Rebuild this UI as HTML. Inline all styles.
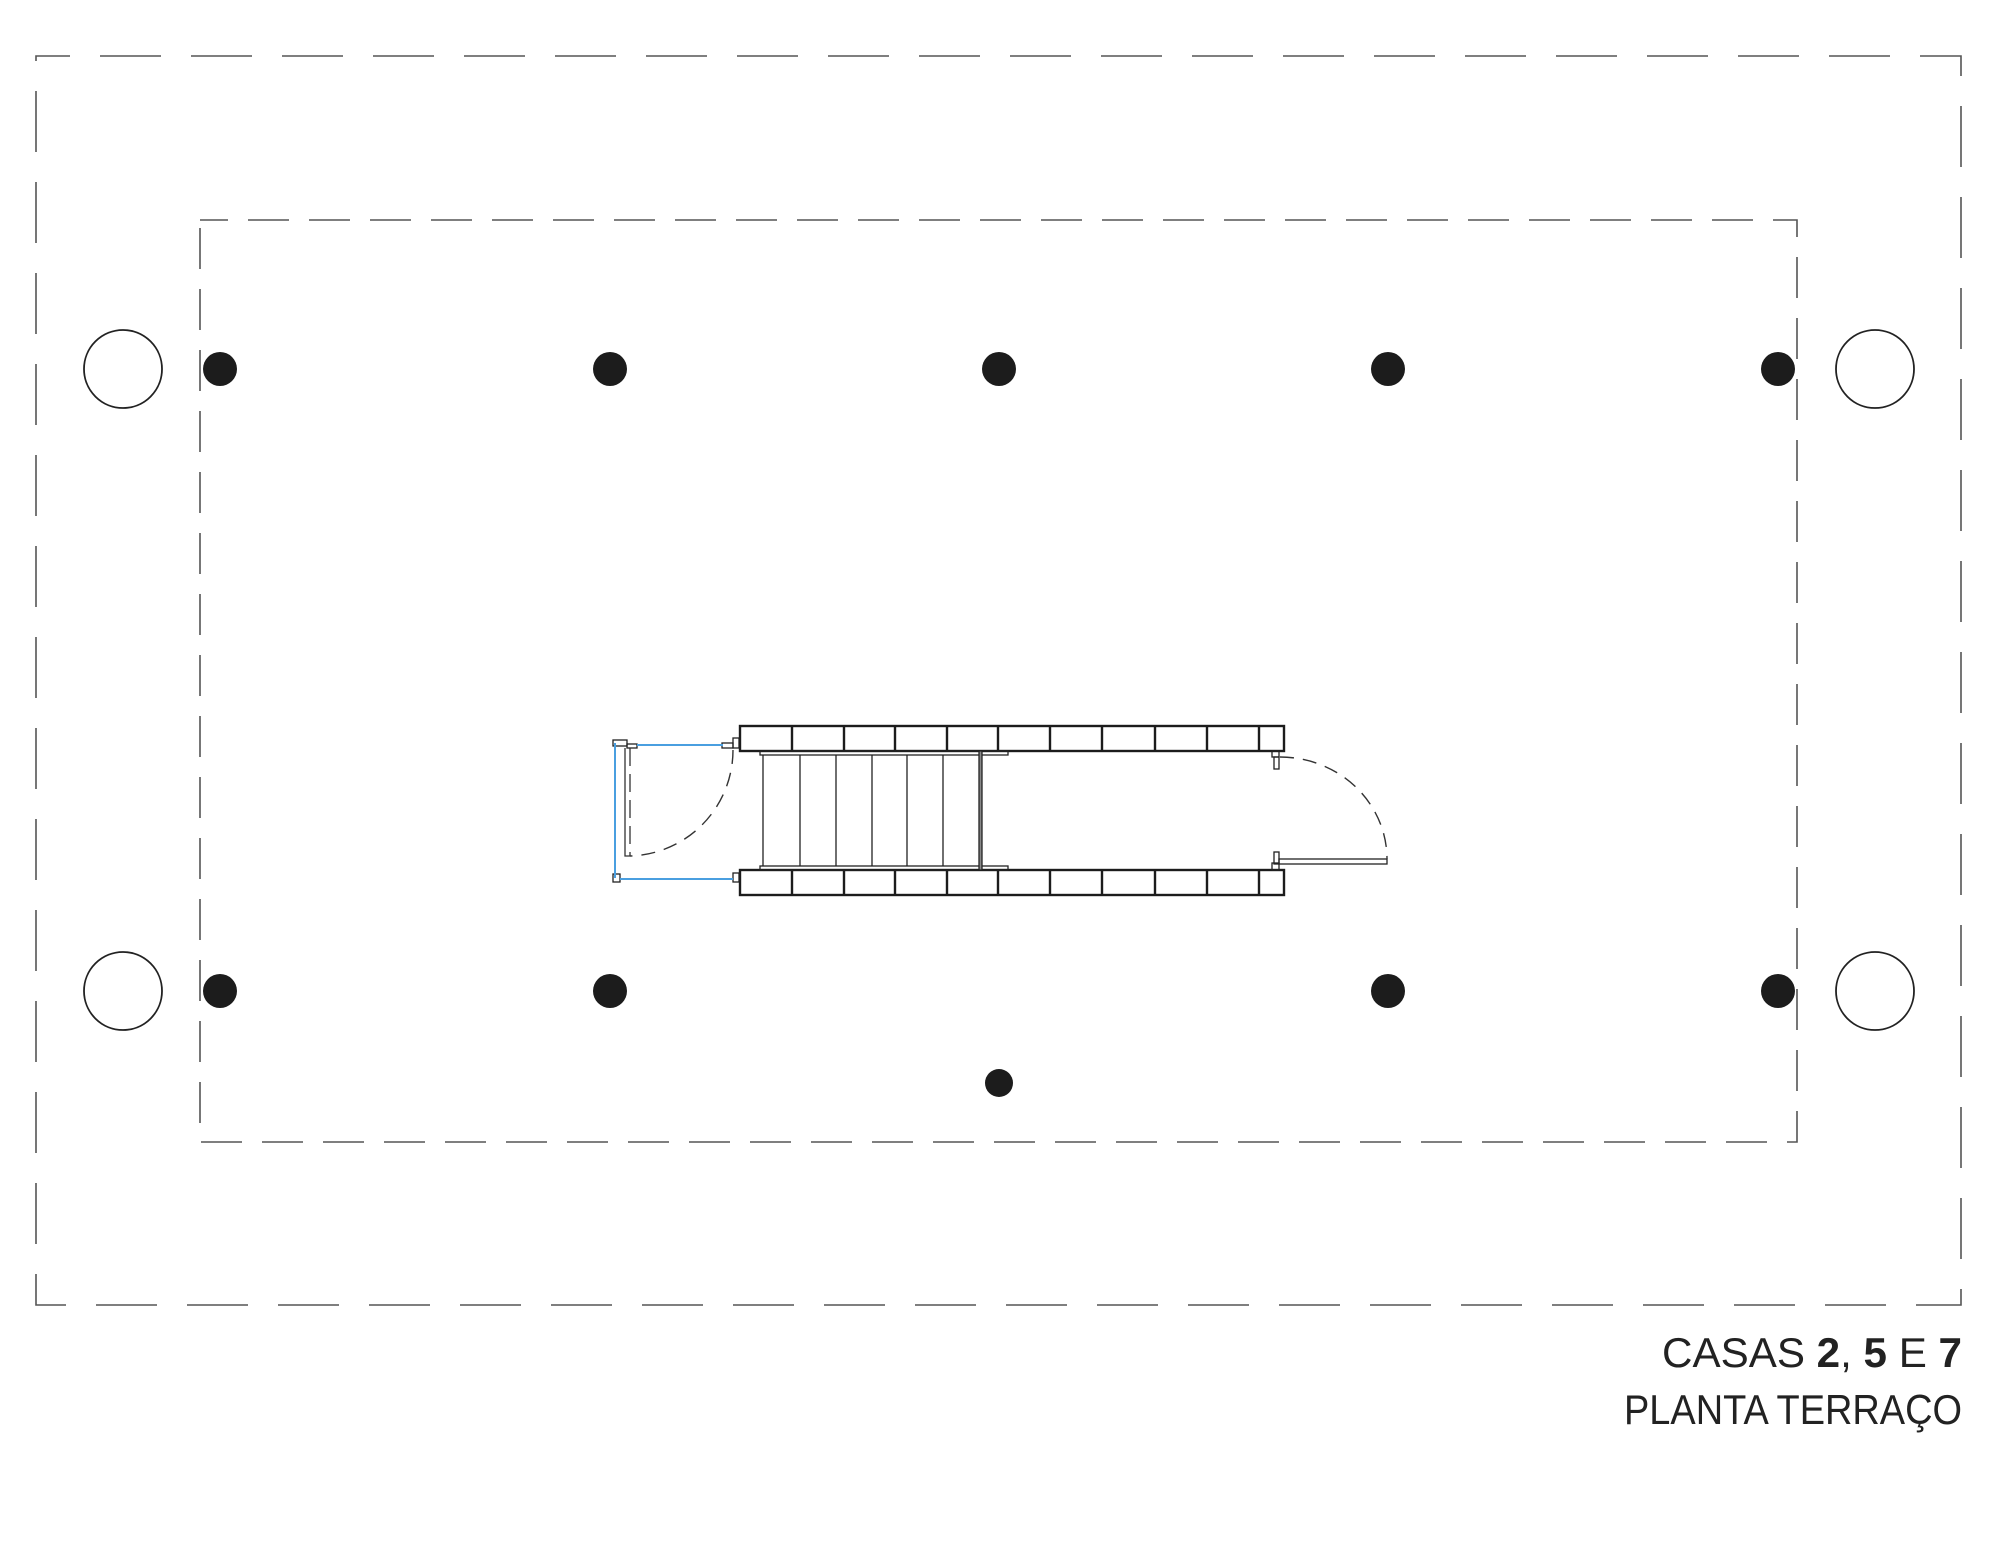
<!DOCTYPE html>
<html><head><meta charset="utf-8"><style>
html,body{margin:0;padding:0;background:#fff;}
svg{display:block;}
</style></head><body>
<svg width="2000" height="1561" viewBox="0 0 2000 1561" xmlns="http://www.w3.org/2000/svg">
<g fill="none" stroke="#555" stroke-width="1.6">
<rect x="36" y="56" width="1925" height="1249" stroke-dasharray="61 30" stroke-dashoffset="27"/>
<rect x="200" y="220" width="1597" height="922" stroke-dasharray="41 20" stroke-dashoffset="13"/>
</g>
<g fill="none" stroke="#222" stroke-width="1.8">
<circle cx="123" cy="369" r="39"/><circle cx="1875" cy="369" r="39"/>
<circle cx="123" cy="991" r="39"/><circle cx="1875" cy="991" r="39"/>
</g>
<g fill="#1c1c1c">
<circle cx="220" cy="369" r="17"/><circle cx="610" cy="369" r="17"/><circle cx="999" cy="369" r="17"/><circle cx="1388" cy="369" r="17"/><circle cx="1778" cy="369" r="17"/>
<circle cx="220" cy="991" r="17"/><circle cx="610" cy="991" r="17"/><circle cx="1388" cy="991" r="17"/><circle cx="1778" cy="991" r="17"/>
<circle cx="999" cy="1083" r="14"/>
</g>
<g fill="none" stroke="#1c1c1c" stroke-width="2.4">
<rect x="740" y="726" width="544" height="25"/>
<rect x="740" y="870" width="544" height="25"/>
<path d="M792 726v25M844 726v25M895 726v25M947 726v25M998 726v25M1050 726v25M1102 726v25M1155 726v25M1207 726v25M1259 726v25
M792 870v25M844 870v25M895 870v25M947 870v25M998 870v25M1050 870v25M1102 870v25M1155 870v25M1207 870v25M1259 870v25"/>
</g>
<g fill="none" stroke="#222" stroke-width="1.3">
<rect x="760" y="751" width="248" height="4"/>
<rect x="760" y="866" width="248" height="4"/>
<path d="M763 755v111M800 755v111M836 755v111M872 755v111M907 755v111M943 755v111"/>
<rect x="979" y="751" width="3" height="119" fill="#888"/>
<rect x="1274" y="757" width="5" height="12"/>
<rect x="1272" y="751" width="7" height="6"/>
<rect x="1274" y="852" width="5" height="12"/>
<rect x="1272" y="863" width="7" height="7"/>
<rect x="1279" y="859" width="108" height="5"/>
<rect x="613" y="740" width="14" height="6"/>
<rect x="627" y="744" width="10" height="4"/>
<rect x="722" y="743" width="11" height="5"/>
<rect x="733" y="738" width="6" height="10"/>
<rect x="613" y="874" width="7" height="8"/>
<rect x="733" y="873" width="6" height="9"/>
</g>
<g fill="none" stroke="#333" stroke-width="1.3">
<path d="M625 748v108h5" />
<path d="M630 748v108" stroke-dasharray="18 8"/>
</g>
<g fill="none" stroke="#4a9fe0" stroke-width="2">
<path d="M615 743v135M637 745h86M620 879h113"/>
</g>
<g fill="none" stroke="#333" stroke-width="1.4" stroke-dasharray="14 9">
<path d="M733 750A106 106 0 0 1 630 856"/>
<path d="M1280 757A107 102 0 0 1 1387 859"/>
</g>
<g font-family="'Liberation Sans', sans-serif" fill="#222" text-anchor="end">
<text x="1962" y="1367" font-size="42" textLength="300" lengthAdjust="spacingAndGlyphs">CASAS <tspan font-weight="bold">2</tspan>, <tspan font-weight="bold">5</tspan> E <tspan font-weight="bold">7</tspan></text>
<text x="1962" y="1424" font-size="42" textLength="338" lengthAdjust="spacingAndGlyphs">PLANTA TERRAÇO</text>
</g>
</svg>
</body></html>
